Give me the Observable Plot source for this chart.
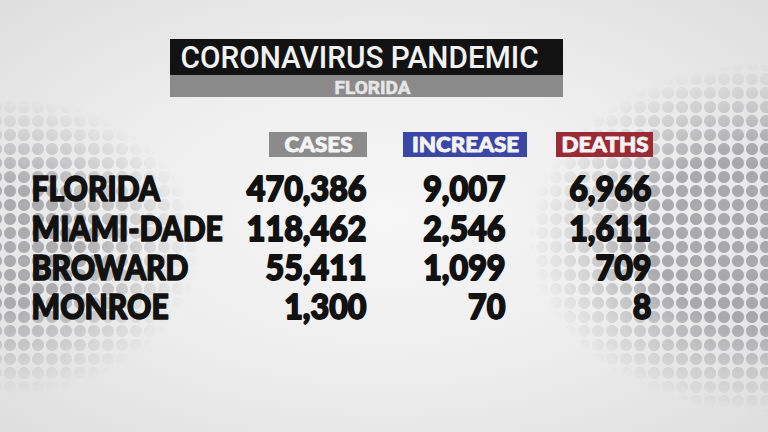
<!DOCTYPE html>
<html>
<head>
<meta charset="utf-8">
<script src="https://cdn.jsdelivr.net/npm/d3@7"></script>
<script src="https://cdn.jsdelivr.net/npm/@observablehq/plot@0.6"></script>
<style>
  html, body { margin: 0; padding: 0; }
  #wrap {
    position: relative; width: 768px; height: 432px; overflow: hidden;
    background: radial-gradient(ellipse at 50% 50%, #f6f6f6 0%, #eeeeee 50%, #dedede 100%);
  }
  .dots {
    position: absolute; inset: 0;
    background-image: radial-gradient(circle, rgba(135,135,140,0.65) 5.5px, transparent 6.5px);
    background-size: 14px 14px;
    background-position: 3px 2px;
  }
  #dotsR {
    -webkit-mask-image: radial-gradient(ellipse 240px 175px at 100% 55%, #000 50%, rgba(0,0,0,0.4) 78%, transparent 100%);
    mask-image: radial-gradient(ellipse 240px 175px at 100% 55%, #000 50%, rgba(0,0,0,0.4) 78%, transparent 100%);
  }
  #dotsL {
    -webkit-mask-image: radial-gradient(ellipse 200px 150px at 0% 57%, rgba(0,0,0,0.95) 40%, rgba(0,0,0,0.35) 75%, transparent 100%);
    mask-image: radial-gradient(ellipse 200px 150px at 0% 57%, rgba(0,0,0,0.95) 40%, rgba(0,0,0,0.35) 75%, transparent 100%);
  }
  #chart { position: absolute; inset: 0; }
</style>
</head>
<body>
<div id="wrap"><div class="dots" id="dotsR"></div><div class="dots" id="dotsL"></div><div id="chart"></div></div>
<script>
// ---- data ----
const title = "CORONAVIRUS PANDEMIC";
const subtitle = "FLORIDA";
const headers = ["CASES", "INCREASE", "DEATHS"];
const counties = ["FLORIDA", "MIAMI-DADE", "BROWARD", "MONROE"];
const cases = [470386, 118462, 55411, 1300];
const increase = [9007, 2546, 1099, 70];
const deaths = [6966, 1611, 709, 8];

// ---- layout & style ----
const headerColors = ["#8b8b8b", "#3b47a6", "#9a2a33"];
const colRight = [366, 505, 651];          // right edges of number columns
const headerBox = [[269, 367], [403, 527], [556, 653]];
const headerY = [132, 157];
const rowTop = 170, rowStep = 39.2;
const labelX = 31;
const titleBox = {x1: 170, x2: 563, y1: 39, y2: 75, y3: 97};

const fmt = d3.format(",");
const columns = [cases, increase, deaths];
const cells = [];
columns.forEach((col, c) => col.forEach((v, r) => cells.push({c, r, v})));
const rows = counties.map((name, r) => ({name, r}));
const heads = headers.map((h, i) => ({h, i}));
const rowY = r => rowTop + rowStep * (r + 0.5);

const heavy = "Lato, 'Noto Sans', sans-serif";

const chart = Plot.plot({
  width: 768, height: 432, margin: 0,
  style: {background: "transparent"},
  x: {domain: [0, 768], range: [0, 768], axis: null},
  y: {domain: [0, 432], range: [0, 432], axis: null},
  marks: [
    // title bars
    Plot.rect([title], {x1: titleBox.x1, x2: titleBox.x2, y1: titleBox.y1, y2: titleBox.y2, fill: "#121212"}),
    Plot.rect([subtitle], {x1: titleBox.x1, x2: titleBox.x2, y1: titleBox.y2, y2: titleBox.y3, fill: "#8a8a8a"}),
    Plot.text([title], {x: titleBox.x1 + 10, y: (titleBox.y1 + titleBox.y2) / 2, text: d => d, textAnchor: "start",
      fill: "#f2f2f2", fontSize: 31, fontFamily: "Roboto, sans-serif", fontWeight: 500, dy: 1}),
    Plot.text([subtitle], {x: 372, y: (titleBox.y2 + titleBox.y3) / 2, text: d => d,
      fill: "#e6e6e6", stroke: "#e6e6e6", strokeWidth: 0.6, fontSize: 19, fontFamily: "Roboto, sans-serif", fontWeight: 700, dy: 1}),
    // header boxes
    Plot.rect(heads, {x1: d => headerBox[d.i][0], x2: d => headerBox[d.i][1], y1: headerY[0], y2: headerY[1],
      fill: d => headerColors[d.i]}),
    Plot.text(heads, {x: d => (headerBox[d.i][0] + headerBox[d.i][1]) / 2, y: (headerY[0] + headerY[1]) / 2,
      text: "h", fill: "#f4f4f4", stroke: "#f4f4f4", strokeWidth: 0.8, fontSize: 20, fontFamily: heavy, fontWeight: 900, dy: 1}),
    // row labels
    Plot.text(rows, {x: labelX, y: d => rowY(d.r), text: "name", textAnchor: "start",
      fill: "#111", stroke: "#111", strokeWidth: 1.6, fontSize: 35, fontFamily: heavy, fontWeight: 900}),
    // values
    Plot.text(cells, {x: d => colRight[d.c], y: d => rowY(d.r), text: d => fmt(d.v), textAnchor: "end",
      fill: "#111", stroke: "#111", strokeWidth: 1.8, fontSize: 35, fontFamily: heavy, fontWeight: 900})
  ]
});
document.getElementById("chart").appendChild(chart);

// horizontal squeeze/stretch of glyphs, keeping each text's anchor
function scaleX(group, k) {
  if (!group) return;
  group.querySelectorAll("text").forEach(t => {
    const w = t.getComputedTextLength();
    if (w > 0) {
      t.setAttribute("textLength", (w * k).toFixed(1));
      t.setAttribute("lengthAdjust", "spacingAndGlyphs");
    }
  });
}
const textGroups = chart.querySelectorAll('g[aria-label="text"]');
scaleX(textGroups[0], 0.96);
scaleX(textGroups[2], 1.12);
scaleX(textGroups[3], 0.86);
scaleX(textGroups[4], 0.92);
</script>
</body>
</html>
